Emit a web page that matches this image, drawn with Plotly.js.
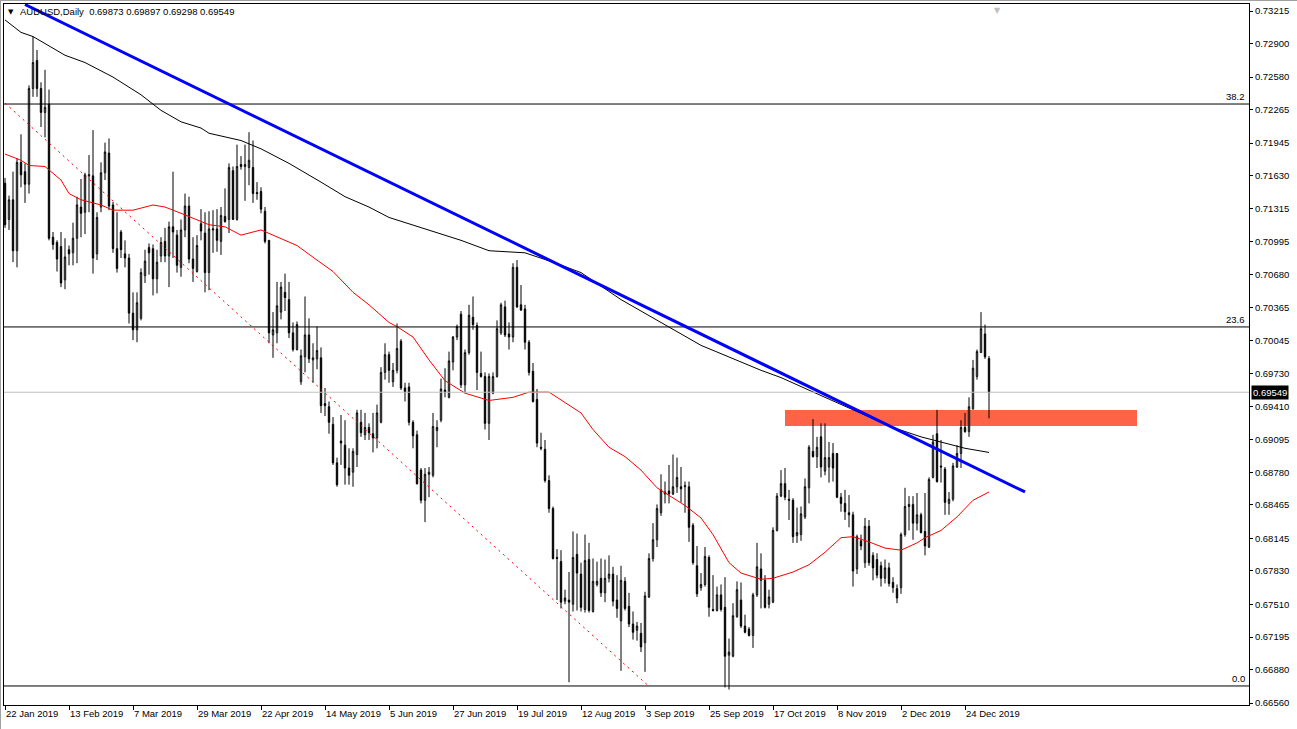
<!DOCTYPE html>
<html><head><meta charset="utf-8">
<script src="https://cdn.plot.ly/plotly-3.0.1.min.js"></script>
<style>html,body{margin:0;padding:0;background:#fff;overflow:hidden}#chart{width:1297px;height:729px}</style>
</head><body><div id="chart"></div>
<script>
// AUDUSD Daily candles (bar 0 = 22 Jan 2019)
const openP = [
.7156,.7121,.7140,.7091,.7176,.7167,.7155,.7247,.7274,.7247,
.7224,.7232,.7104,.7099,.7095,.7063,.7092,.7089,.7103,.7133,
.7128,.7163,.7163,.7088,.7133,.7166,.7185,.7135,.7093,.7109,
.7088,.7084,.7031,.7015,.7026,.7067,.7094,.7093,.7064,.7086,
.7100,.7086,.7114,.7106,.7075,.7111,.7134,.7083,.7071,.7117,
.7108,.7070,.7111,.7112,.7100,.7124,.7121,.7168,.7121,.7174,
.7172,.7171,.7171,.7147,.7148,.7129,.7101,.7010,.7012,.7032,
.7051,.7044,.7012,.6996,.6965,.6989,.7010,.6986,.6987,.6988,
.6944,.6941,.6924,.6887,.6908,.6904,.6882,.6878,.6895,.6926,
.6914,.6921,.6915,.6911,.6926,.6974,.6991,.6965,.6976,.7004,
.6959,.6960,.6926,.6914,.6880,.6851,.6876,.6875,.6918,.6928,
.6957,.6950,.6984,.7008,.7030,.6962,.6993,.7027,.7019,.6973,
.6970,.6925,.6954,.6970,.7012,.7037,.7011,.7008,.7075,.7039,
.7035,.7003,.6975,.6948,.6902,.6900,.6870,.6843,.6796,.6792,
.6754,.6755,.6751,.6799,.6780,.6746,.6794,.6744,.6770,.6776,
.6762,.6776,.6780,.6755,.6735,.6773,.6749,.6732,.6726,.6723,
.6714,.6758,.6795,.6813,.6839,.6857,.6860,.6857,.6864,.6864,
.6864,.6864,.6827,.6788,.6767,.6770,.6796,.6746,.6745,.6760,
.6748,.6702,.6701,.6739,.6755,.6730,.6727,.6721,.6760,.6785,
.6774,.6751,.6753,.6822,.6855,.6867,.6852,.6851,.6817,.6818,
.6835,.6863,.6898,.6893,.6912,.6879,.6883,.6896,.6896,.6854,
.6848,.6839,.6837,.6785,.6812,.6791,.6826,.6798,.6794,.6788,
.6776,.6786,.6772,.6766,.6767,.6818,.6845,.6847,.6829,.6837,
.6821,.6806,.6873,.6915,.6884,.6881,.6848,.6852,.6883,.6896,
.6921,.6917,.6939,.6970,.6993,.7011,.69873];
const highP = [
.7161,.7144,.7167,.7180,.7203,.7175,.7250,.7297,.7284,.7253,
.7265,.7246,.7109,.7101,.7109,.7103,.7096,.7118,.7143,.7160,
.7166,.7183,.7207,.7128,.7176,.7195,.7199,.7138,.7128,.7111,
.7101,.7088,.7051,.7051,.7074,.7092,.7098,.7097,.7092,.7104,
.7113,.7119,.7167,.7111,.7121,.7146,.7143,.7104,.7106,.7131,
.7128,.7129,.7130,.7131,.7133,.7151,.7175,.7172,.7193,.7182,
.7193,.7205,.7197,.7157,.7152,.7133,.7101,.7032,.7061,.7061,
.7069,.7061,.7022,.7023,.6996,.7047,.7026,.7002,.7018,.6998,
.6959,.6946,.6931,.6892,.6933,.6928,.6901,.6901,.6938,.6938,
.6935,.6925,.6935,.6943,.6979,.7002,.6994,.6983,.7021,.7006,
.6964,.6964,.6928,.6918,.6882,.6882,.6883,.6935,.6928,.6968,
.6978,.6994,.7009,.7020,.7033,.6996,.7039,.7047,.7022,.6994,
.6974,.6973,.6974,.7024,.7041,.7043,.7022,.7079,.7082,.7058,
.7039,.7005,.6983,.6958,.6916,.6909,.6875,.6845,.6804,.6803,
.6765,.6782,.6821,.6819,.6791,.6818,.6810,.6795,.6792,.6795,
.6794,.6798,.6787,.6779,.6788,.6777,.6762,.6744,.6734,.6733,
.6763,.6800,.6829,.6847,.6876,.6869,.6885,.6895,.6892,.6883,
.6869,.6869,.6829,.6807,.6781,.6806,.6798,.6779,.6768,.6770,
.6777,.6718,.6752,.6773,.6772,.6741,.6729,.6762,.6810,.6800,
.6779,.6765,.6825,.6858,.6880,.6882,.6861,.6853,.6844,.6845,
.6872,.6904,.6929,.6912,.6925,.6925,.6907,.6906,.6896,.6858,
.6861,.6856,.6840,.6818,.6818,.6834,.6832,.6801,.6800,.6792,
.6794,.6791,.6777,.6770,.6820,.6863,.6855,.6855,.6858,.6839,
.6858,.6873,.6914,.6938,.6909,.6883,.6859,.6887,.6904,.6928,
.6935,.6950,.6986,.6996,.7032,.7020,.69897];
const lowP = [
.7113,.7111,.7080,.7075,.7152,.7137,.7146,.7239,.7239,.7210,
.7200,.7101,.7092,.7071,.7056,.7054,.7077,.7077,.7079,.7104,
.7107,.7128,.7069,.7082,.7128,.7159,.7130,.7089,.7070,.7084,
.7075,.7021,.7005,.7003,.7024,.7060,.7068,.7048,.7050,.7080,
.7080,.7056,.7084,.7070,.7066,.7104,.7079,.7061,.7070,.7101,
.7051,.7053,.7089,.7090,.7087,.7118,.7108,.7121,.7120,.7169,
.7139,.7154,.7137,.7140,.7127,.7098,.7002,.6988,.7002,.7025,
.7033,.7007,.6994,.6995,.6962,.6974,.6983,.6964,.6977,.6935,
.6932,.6915,.6885,.6864,.6885,.6866,.6866,.6864,.6883,.6912,
.6909,.6909,.6897,.6901,.6925,.6967,.6964,.6960,.6973,.6957,
.6946,.6923,.6901,.6866,.6848,.6830,.6854,.6873,.6902,.6926,
.6950,.6949,.6976,.7005,.6959,.6954,.6991,.7015,.6957,.6969,
.6919,.6909,.6953,.6969,.7010,.7008,.6996,.7003,.7036,.7033,
.6996,.6971,.6945,.6902,.6899,.6868,.6839,.6794,.6755,.6747,
.6751,.6676,.6744,.6745,.6744,.6743,.6743,.6743,.6768,.6758,
.6753,.6772,.6749,.6738,.6687,.6745,.6729,.6717,.6716,.6705,
.6686,.6757,.6792,.6806,.6836,.6848,.6848,.6856,.6858,.6849,
.6839,.6811,.6789,.6758,.6764,.6768,.6739,.6744,.6744,.6744,
.6671,.6669,.6700,.6738,.6728,.6723,.6720,.6709,.6758,.6747,
.6747,.6747,.6752,.6821,.6854,.6851,.6832,.6810,.6810,.6812,
.6833,.6848,.6892,.6882,.6873,.6875,.6868,.6869,.6853,.6840,
.6832,.6825,.6768,.6780,.6803,.6786,.6788,.6774,.6776,.6768,
.6771,.6768,.6762,.6752,.6761,.6816,.6822,.6813,.6822,.6819,
.6798,.6805,.6872,.6868,.6868,.6837,.6837,.6850,.6882,.6882,
.6916,.6912,.6938,.6967,.6993,.6987,.69298];
const closeP = [
.7116,.7140,.7091,.7176,.7164,.7155,.7247,.7272,.7247,.7224,
.7229,.7103,.7097,.7083,.7060,.7085,.7088,.7103,.7135,.7127,
.7164,.7164,.7084,.7123,.7166,.7186,.7134,.7093,.7074,.7092,
.7084,.7031,.7015,.7041,.7070,.7081,.7089,.7064,.7080,.7099,
.7086,.7114,.7109,.7077,.7111,.7134,.7083,.7074,.7096,.7110,
.7070,.7112,.7112,.7101,.7125,.7119,.7171,.7121,.7172,.7172,
.7174,.7178,.7146,.7146,.7131,.7100,.7012,.7015,.7038,.7056,
.7046,.7012,.6996,.7020,.6990,.7010,.6987,.6988,.6995,.6942,
.6942,.6926,.6887,.6866,.6906,.6882,.6875,.6898,.6935,.6916,
.6921,.6916,.6911,.6935,.6974,.6991,.6976,.6976,.6997,.6959,
.6955,.6926,.6913,.6867,.6851,.6876,.6878,.6922,.6921,.6958,
.6955,.6985,.7008,.7018,.6962,.6993,.7029,.7020,.6974,.6970,
.6925,.6970,.6970,.7016,.7039,.7010,.7008,.7075,.7037,.7034,
.7003,.6974,.6946,.6906,.6901,.6870,.6843,.6795,.6795,.6753,
.6757,.6753,.6796,.6781,.6748,.6793,.6745,.6773,.6773,.6762,
.6776,.6780,.6754,.6747,.6774,.6747,.6732,.6724,.6730,.6710,
.6759,.6795,.6813,.6843,.6861,.6859,.6857,.6864,.6873,.6862,
.6865,.6825,.6791,.6761,.6770,.6797,.6748,.6745,.6760,.6746,
.6701,.6705,.6740,.6765,.6730,.6724,.6721,.6760,.6787,.6774,
.6748,.6758,.6822,.6855,.6867,.6854,.6851,.6816,.6820,.6838,
.6864,.6902,.6893,.6902,.6883,.6892,.6892,.6882,.6854,.6848,
.6840,.6837,.6783,.6816,.6807,.6826,.6791,.6786,.6779,.6776,
.6786,.6771,.6767,.6757,.6818,.6845,.6847,.6829,.6837,.6820,
.6807,.6871,.6907,.6869,.6883,.6849,.6852,.6884,.6896,.6921,
.6917,.6941,.6978,.6994,.7016,.6989,.69549];

// Moving averages (bar index, price)
const maSlowBar = [0,4,7,15,20,27,34,39,44,49,51,59,64,71,79,85,91,96,114,121,130,137,144,154,164,174,184,189,194,200,205,212,222,229,235,240,246];
const maSlowVal = [0.7313,0.7301,0.7297,0.7279,0.7272,0.7258,0.7241,0.7226,0.7215,0.7209,0.7204,0.7197,0.7189,0.7175,0.7157,0.7143,0.7133,0.7123,0.7101,0.7091,0.7089,0.7080,0.7070,0.7044,0.7022,0.7000,0.6984,0.6976,0.6969,0.6959,0.6950,0.6938,0.6921,0.6912,0.6906,0.6901,0.6897];
const maFastBar = [0,4,6,10,14,16,19,24,27,32,37,40,44,49,51,55,59,64,67,73,78,82,87,91,96,98,102,106,110,115,121,127,131,136,140,144,147,151,155,159,163,167,170,174,177,181,184,189,192,197,201,205,209,212,216,220,224,228,230,234,238,242,246];
const maFastVal = [0.7184,0.7178,0.7173,0.7172,0.7159,0.7146,0.7140,0.7135,0.7130,0.7130,0.7135,0.7133,0.7127,0.7119,0.7116,0.7114,0.7106,0.7111,0.7106,0.7096,0.7082,0.7071,0.7051,0.7039,0.7022,0.7018,0.7008,0.6986,0.6966,0.6954,0.6947,0.6950,0.6955,0.6955,0.6945,0.6935,0.6919,0.6902,0.6893,0.6880,0.6863,0.6853,0.6846,0.6834,0.6818,0.6791,0.6781,0.6775,0.6776,0.6782,0.6789,0.6801,0.6815,0.6816,0.6811,0.6805,0.6803,0.6810,0.6815,0.6822,0.6835,0.6851,0.6859];

// Drawn objects
const trendBar = [5, 255];
const trendVal = [0.73278, 0.68590];
const channelBar = [0, 161];
const channelVal = [0.7233, 0.6672];
const fibLevels = [0.72321, 0.70177, 0.66724];
const fibLabels = ['38.2', '23.6', '0.0'];
const lastPrice = 0.69549;
const zoneBar = [195, 283];
const zoneVal = [0.69224, 0.69378];

// Axis ticks
const xTickBar = [0,16,32,48,64,80,96,112,128,144,160,176,192,208,224,240];
const xTickLabels = ['22 Jan 2019','13 Feb 2019','7 Mar 2019','29 Mar 2019','22 Apr 2019','14 May 2019','5 Jun 2019','27 Jun 2019','19 Jul 2019','12 Aug 2019','3 Sep 2019','25 Sep 2019','17 Oct 2019','8 Nov 2019','2 Dec 2019','24 Dec 2019'];
const yTickLabels = ['0.73215','0.72900','0.72580','0.72265','0.71945','0.71630','0.71315','0.70995','0.70680','0.70365','0.70045','0.69730','0.69410','0.69095','0.68780','0.68465','0.68145','0.67830','0.67510','0.67195','0.66880','0.66560'];
const titleText = 'AUDUSD,Daily\u00A0\u00A00.69873 0.69897 0.69298 0.69549';

const FONT = '"Liberation Sans", Arial, sans-serif';
const FS = 9.5;
const bars = openP.map((_, i) => i);
const xMin = -0.25, xMax = 311;

const traces = [
  {type:'candlestick', x:bars, open:openP, high:highP, low:lowP, close:closeP,
   increasing:{line:{color:'#000', width:1}, fillcolor:'#ffffff'},
   decreasing:{line:{color:'#000', width:1}, fillcolor:'#000000'},
   whiskerwidth:0, hoverinfo:'skip', showlegend:false},
  {type:'scatter', mode:'lines', x:maFastBar, y:maFastVal, line:{color:'#ff0000', width:1}, hoverinfo:'skip'},
  {type:'scatter', mode:'lines', x:maSlowBar, y:maSlowVal, line:{color:'#000000', width:1}, hoverinfo:'skip'},
];
fibLevels.forEach(v => traces.push({type:'scatter', mode:'lines', x:[xMin-1, xMax+1], y:[v, v], line:{color:'#000', width:1}, hoverinfo:'skip'}));
traces.push({type:'scatter', mode:'lines', x:[xMin-1, xMax+1], y:[lastPrice, lastPrice], line:{color:'#c0c0c0', width:1}, hoverinfo:'skip'});
traces.push({type:'scatter', mode:'lines', x:channelBar, y:channelVal, line:{color:'#ff0000', width:1, dash:'2px,4px'}, hoverinfo:'skip'});
traces.push({type:'scatter', mode:'lines', x:trendBar, y:trendVal, line:{color:'#0000ff', width:3}, hoverinfo:'skip'});

const annotations = fibLabels.map((t, i) => ({
  xref:'paper', x:1, xanchor:'right', xshift:-2, yref:'y', y:fibLevels[i], yanchor:'bottom',
  text:t, showarrow:false, font:{family:FONT, size:FS, color:'#000'}
}));
annotations.push({xref:'paper', x:1, xanchor:'left', xshift:2, yref:'y', y:lastPrice, yanchor:'middle',
  text:lastPrice.toFixed(5), showarrow:false, bgcolor:'#000', borderpad:1, font:{family:FONT, size:FS, color:'#fff'}});
annotations.push({xref:'paper', x:(11-4)/1245, xanchor:'center', yref:'paper', y:1-(12-4)/701, yanchor:'middle',
  text:'\u25BC', showarrow:false, font:{family:'DejaVu Sans', size:7, color:'#000'}});
annotations.push({xref:'x', x:248, xanchor:'center', yref:'paper', y:1, yanchor:'top',
  text:'\u25BC', showarrow:false, font:{family:'DejaVu Sans', size:8, color:'#c0c0c0'}});

const layout = {
  width:1297, height:729, autosize:false,
  margin:{l:4, r:48, t:4, b:24, pad:0},
  paper_bgcolor:'#ffffff', plot_bgcolor:'#ffffff',
  showlegend:false, hovermode:false, boxgap:0.5,
  font:{family:FONT, size:FS, color:'#000'},
  title:{text:titleText, xref:'container', x:20/1297, xanchor:'left', yref:'container', y:1-12/729, yanchor:'middle',
         font:{family:FONT, size:FS, color:'#000'}},
  xaxis:{range:[xMin, xMax], showgrid:false, zeroline:false, showline:true, mirror:true, linecolor:'#000', linewidth:1,
         tickmode:'array', tickvals:xTickBar, ticktext:xTickLabels, ticks:'outside', ticklen:4, tickwidth:1, tickcolor:'#000',
         ticklabelposition:'outside right', tickfont:{family:FONT, size:FS, color:'#000'},
         rangeslider:{visible:false}, fixedrange:true},
  yaxis:{side:'right', range:[0.66541, 0.73283], showgrid:false, zeroline:false, showline:true, mirror:true,
         linecolor:'#000', linewidth:1, tickmode:'array', tickvals:yTickLabels.map(Number), ticktext:yTickLabels,
         ticks:'outside', ticklen:3, tickwidth:1, tickcolor:'#000', tickfont:{family:FONT, size:FS, color:'#000'}, fixedrange:true},
  shapes:[
    {type:'rect', xref:'x', yref:'y', x0:zoneBar[0], x1:zoneBar[1], y0:zoneVal[0], y1:zoneVal[1],
     fillcolor:'#ff6347', line:{width:0}, layer:'below'},
    {type:'line', xref:'paper', yref:'paper', x0:-4/1245, x1:1293/1245, y0:1+3.5/701, y1:1+3.5/701, line:{color:'#a0a0a0', width:1}},
    {type:'line', xref:'paper', yref:'paper', x0:-3.5/1245, x1:-3.5/1245, y0:-24/701, y1:1+4/701, line:{color:'#a0a0a0', width:1}}
  ],
  annotations:annotations
};
Plotly.newPlot('chart', traces, layout, {displayModeBar:false, staticPlot:true});
</script>
</body></html>
